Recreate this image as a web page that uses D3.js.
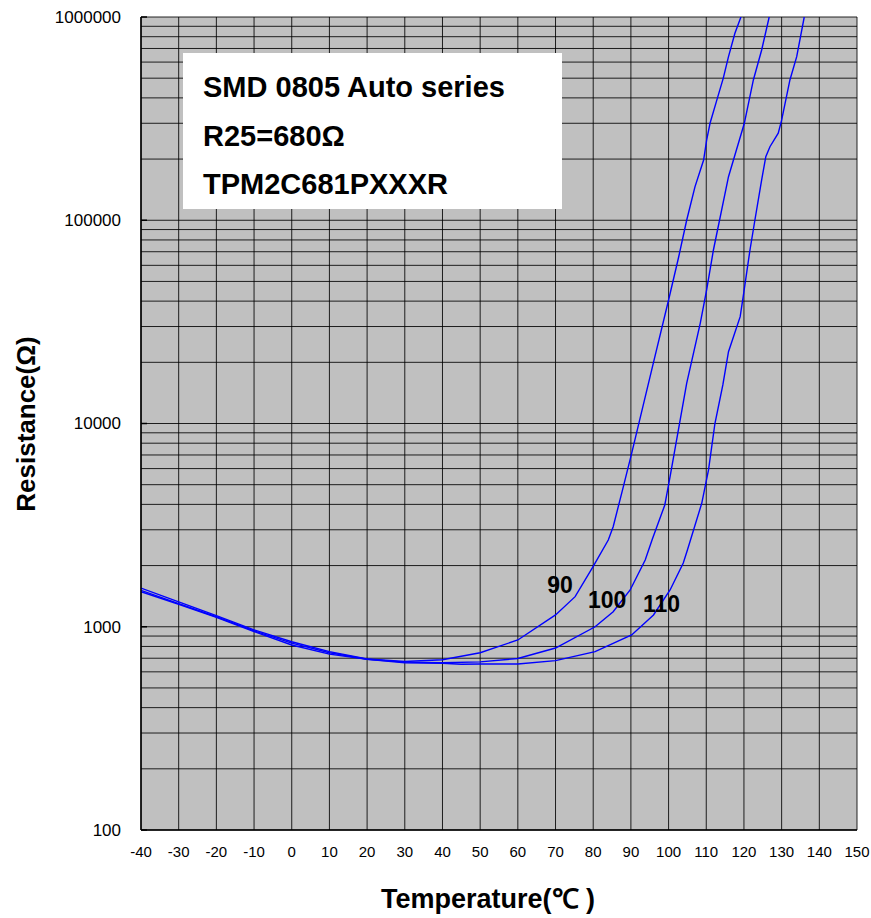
<!DOCTYPE html>
<html>
<head>
<meta charset="utf-8">
<script src="https://cdn.jsdelivr.net/npm/d3@7/dist/d3.min.js"></script>
<style>
  html, body { margin: 0; padding: 0; background: #ffffff; }
  svg { display: block; }
  text { font-family: Arial, "Liberation Sans", sans-serif; }
</style>
</head>
<body>
<svg id="chart" width="871" height="918"></svg>
<script>
// ---- data ----
const xTicks = [-40,-30,-20,-10,0,10,20,30,40,50,60,70,80,90,100,110,120,130,140,150];
const yTicks = [100,1000,10000,100000,1000000];
const yTickLabels = ["100","1000","10000","100000","1000000"];
const seriesNames = ["90","100","110"];

const temp90 = [-40,-30,-20,-10,0,10,20,30,40,50,60,70,75.2,80,84,85.3,88,90.2,96,100,102.6,104.8,107,109.3,110.1,111,112.8,114.5,115.9,117.6,119.2];
const res90  = [1550,1325,1135,966,844,754,694,675,688,745,861,1143,1406,1980,2672,3107,4888,7135,20000,40500,65000,100000,146000,197800,248000,300000,390000,499000,638000,832000,1000000];

const temp100 = [-40,-30,-20,-10,0,10,20,30,40,50,60,70,80.5,85.3,89.8,93.8,95.7,99,100.4,104.8,108.4,110.1,111.9,115.9,120.1,122.5,124.7,126.7];
const res100  = [1510,1300,1120,955,830,745,692,670,665,672,698,786,1000,1186,1517,2130,2700,3973,5475,15770,31100,45400,71400,163800,300000,490000,688000,1000000];

const temp110 = [-40,-30,-20,-10,0,10,20,30,40,45,50,60,70,80.5,90.2,96,100.4,103.9,105,108.8,110.6,112.3,114.4,115.9,119,119.8,121.6,122.9,124.7,125.8,126.9,129.1,130,132.2,134,136];
const res110  = [1488,1290,1112,946,813,733,692,665,661,654,656,656,681,754,911,1143,1517,2060,2386,4050,5907,10000,15470,22560,33540,42100,71400,100000,157800,205500,230000,268000,311000,490000,638000,1000000];

const labelTemps = [67.8, 78.6, 93.2];
const labelRes   = [1466, 1235, 1182];

const infoLines = ["SMD 0805 Auto series", "R25=680Ω", "TPM2C681PXXXR"];
const xTitle = "Temperature(℃ )";
const yTitle = "Resistance(Ω)";

// ---- layout ----
const L = 141, R = 857, T = 17, B = 830;
const svg = d3.select("#chart");
const x = d3.scaleLinear().domain([-40,150]).range([L,R]);
const y = d3.scaleLog().domain([100,1000000]).range([B,T]);

svg.append("rect").attr("x",L).attr("y",T).attr("width",R-L).attr("height",B-T).attr("fill","#c0c0c0");

// horizontal grid (log minors)
const hLines = [];
for (let d = 100; d < 1000000; d *= 10) for (let k = 1; k <= 9; k++) hLines.push(d*k);
hLines.push(1000000);
svg.append("g").selectAll("line").data(hLines).join("line")
  .attr("x1",L).attr("x2",R).attr("y1",d=>y(d)).attr("y2",d=>y(d))
  .attr("stroke","#000").attr("stroke-width",1).attr("stroke-opacity",0.85);

// vertical grid
svg.append("g").selectAll("line").data(xTicks).join("line")
  .attr("x1",d=>x(d)).attr("x2",d=>x(d)).attr("y1",T).attr("y2",B)
  .attr("stroke","#000").attr("stroke-width",1).attr("stroke-opacity",0.85);

// white info box
svg.append("rect").attr("x",183).attr("y",53).attr("width",379).attr("height",156).attr("fill","#ffffff");
svg.append("g").selectAll("text").data(infoLines).join("text")
  .attr("x",203).attr("y",(d,i)=>97+i*48.5)
  .attr("font-size",29).attr("font-weight","bold").attr("fill","#000").text(d=>d);

// curves
svg.append("clipPath").attr("id","clip").append("rect")
  .attr("x",L).attr("y",T).attr("width",R-L).attr("height",B-T);
const series = [[temp90,res90],[temp100,res100],[temp110,res110]];
const line = d3.line().x(d=>x(d[0])).y(d=>y(d[1])).curve(d3.curveLinear);
svg.append("g").attr("clip-path","url(#clip)").selectAll("path").data(series).join("path")
  .attr("d",s=>line(s[0].map((t,i)=>[t,s[1][i]])))
  .attr("fill","none").attr("stroke","#0000ff").attr("stroke-width",1.4);

// curve labels
svg.append("g").selectAll("text").data(seriesNames).join("text")
  .attr("x",(d,i)=>x(labelTemps[i])).attr("y",(d,i)=>y(labelRes[i]))
  .attr("font-size",23).attr("font-weight","bold").attr("fill","#000").text(d=>d);

// axes lines
svg.append("line").attr("x1",L).attr("x2",L).attr("y1",T).attr("y2",B).attr("stroke","#000").attr("stroke-width",1.5);
svg.append("line").attr("x1",L).attr("x2",R).attr("y1",B).attr("y2",B).attr("stroke","#000").attr("stroke-width",1.5);
svg.append("g").selectAll("line").data(yTicks).join("line")
  .attr("x1",L).attr("x2",L+6).attr("y1",d=>y(d)).attr("y2",d=>y(d)).attr("stroke","#000").attr("stroke-width",1.5);

// tick labels
svg.append("g").selectAll("text").data(yTicks).join("text")
  .attr("x",121).attr("y",d=>y(d)).attr("dy","0.35em").attr("text-anchor","end")
  .attr("font-size",17).attr("fill","#000").text((d,i)=>yTickLabels[i]);
svg.append("g").selectAll("text").data(xTicks).join("text")
  .attr("x",d=>x(d)).attr("y",857).attr("text-anchor","middle")
  .attr("font-size",15).attr("fill","#000").text(d=>String(d));

// axis titles
svg.append("text").attr("x",488).attr("y",908).attr("text-anchor","middle")
  .attr("font-size",27).attr("font-weight","bold").attr("fill","#000").text(xTitle);
svg.append("text").attr("transform","translate(35,424) rotate(-90)").attr("text-anchor","middle")
  .attr("font-size",26).attr("font-weight","bold").attr("fill","#000").text(yTitle);
</script>
</body>
</html>
